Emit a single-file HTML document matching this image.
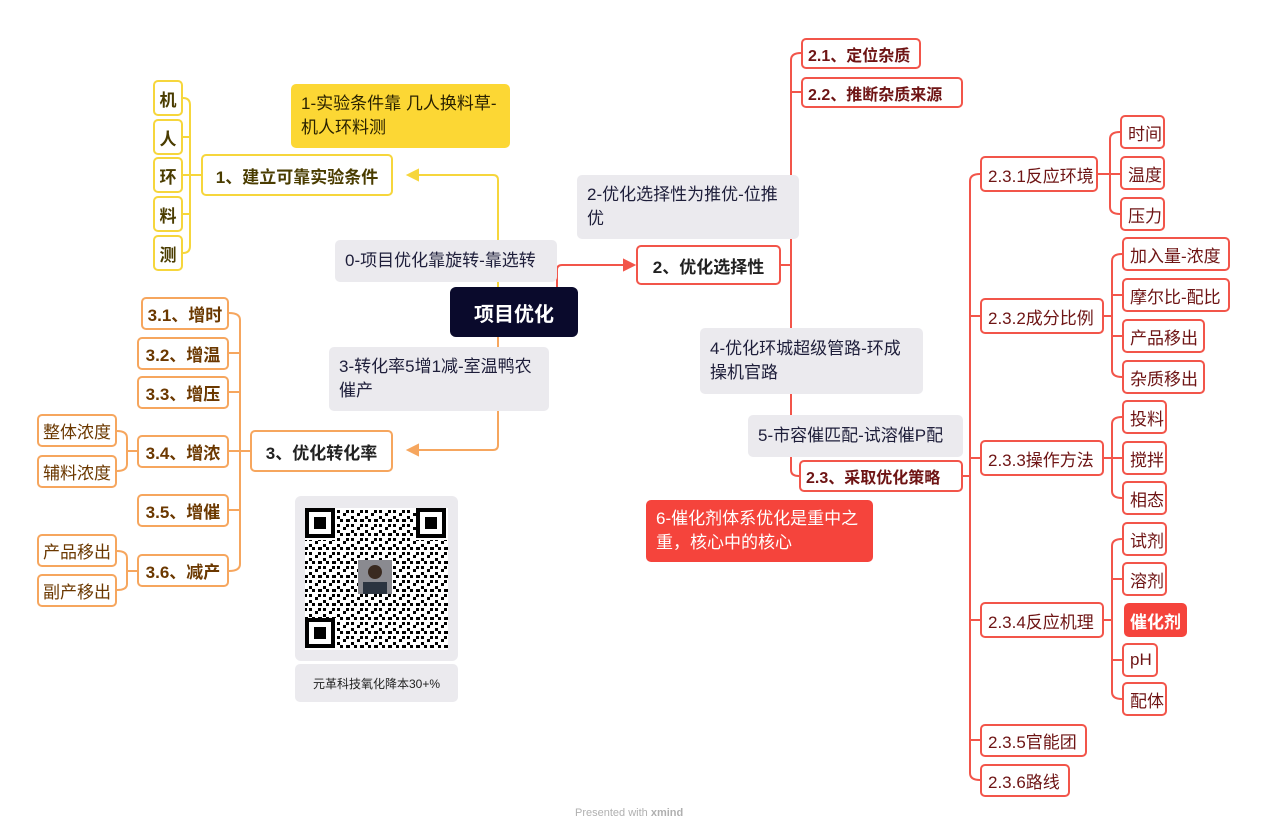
<!DOCTYPE html>
<html><head><meta charset="utf-8"><style>
body{margin:0;width:1268px;height:834px;background:#fff;position:relative;overflow:hidden;font-family:"Liberation Sans","Noto Sans CJK SC",sans-serif}
.n{position:absolute;box-sizing:border-box;display:flex;align-items:center;border-radius:5px;font-size:17px;white-space:nowrap}
.y{border:2px solid #f6d63c;color:#4a3c00;background:#fff}
.o{border:2px solid #f6a65e;color:#6b3800;background:#fff;font-weight:bold;justify-content:center}
.o2{border:2px solid #f6a65e;color:#6b3800;background:#fff;justify-content:center}
.r{border:2px solid #f2554a;color:#6e1414;background:#fff;padding-left:6px}
.rb{border:2px solid #f2554a;color:#6e1414;background:#fff;font-weight:bold;padding-left:5px;font-size:16px}
.g{background:#ebeaee;color:#1e1e3a;padding:0 10px;white-space:normal;line-height:24px;font-size:17px;border-radius:5px}
.b{font-weight:bold}
.c{justify-content:center}
</style></head><body>
<svg width="1268" height="834" style="position:absolute;left:0;top:0" fill="none" stroke-width="2">
<g stroke="#f6d63c">
<path d="M498 287 V180 Q498 175 493 175 H410"/><path d="M408 175 l10 -5 v10z" fill="#f6d63c"/>
<path d="M201 175 H190 M183 98 Q190 98 190 105 V246 Q190 253 183 253 M183 137 H190 M183 175 H190 M183 214 H190"/>
</g>
<g stroke="#f6a65e">
<path d="M498 337 V445 Q498 450 493 450 H410"/><path d="M408 450 l10 -5 v10z" fill="#f6a65e"/>
<path d="M250 451 H240 M229 313 Q240 313 240 320 V564 Q240 571 229 571 M229 353 H240 M229 392 H240 M229 451 H240 M229 510 H240"/>
<path d="M137 451 H127 M117 431 Q127 431 127 438 V464 Q127 471 117 471 M137 571 H127 M117 551 Q127 551 127 558 V584 Q127 590 117 590"/>
</g>
<g stroke="#f2554a">
<path d="M557 290 V270 Q557 265 562 265 H625"/><path d="M634 265 l-10 -5 v10z" fill="#f2554a"/>
<path d="M781 265 H791 M801 53 Q791 53 791 60 V470 Q791 476 799 476 M801 92 H791"/>
<path d="M963 476 H970 M980 174 Q970 174 970 181 V773 Q970 780 980 780 M980 316 H970 M980 458 H970 M980 620 H970 M980 740 H970"/>
<path d="M1098 174 H1110 M1120 132 Q1110 132 1110 139 V207 Q1110 214 1120 214 M1120 174 H1110"/>
<path d="M1104 316 H1112 M1122 254 Q1112 254 1112 261 V370 Q1112 377 1122 377 M1122 295 H1112 M1122 336 H1112"/>
<path d="M1104 458 H1112 M1122 417 Q1112 417 1112 424 V491 Q1112 498 1122 498 M1122 458 H1112"/>
<path d="M1104 620 H1112 M1122 539 Q1112 539 1112 546 V692 Q1112 699 1122 699 M1122 579 H1112 M1122 660 H1112"/>
</g>
</svg>

<div class="n c b" style="left:450px;top:287px;width:128px;height:50px;background:#0a0a2c;color:#fff;font-size:20px;border-radius:6px">项目优化</div>
<div class="n g" style="left:335px;top:240px;width:222px;height:42px">0-项目优化靠旋转-靠选转</div>
<div class="n g" style="left:329px;top:347px;width:220px;height:64px">3-转化率5增1减-室温鸭农催产</div>
<div class="n g" style="left:291px;top:84px;width:219px;height:64px;background:#fcd734;color:#2a2200">1-实验条件靠 几人换料草-机人环料测</div>
<div class="n y b c" style="left:201px;top:154px;width:192px;height:42px">1、建立可靠实验条件</div>
<div class="n y b c" style="left:153px;top:80px;width:30px;height:36px">机</div>
<div class="n y b c" style="left:153px;top:119px;width:30px;height:36px">人</div>
<div class="n y b c" style="left:153px;top:157px;width:30px;height:36px">环</div>
<div class="n y b c" style="left:153px;top:196px;width:30px;height:36px">料</div>
<div class="n y b c" style="left:153px;top:235px;width:30px;height:36px">测</div>

<div class="n o" style="left:250px;top:430px;width:143px;height:42px;color:#222">3、优化转化率</div>
<div class="n o" style="left:141px;top:297px;width:88px;height:33px">3.1、增时</div>
<div class="n o" style="left:137px;top:337px;width:92px;height:33px">3.2、增温</div>
<div class="n o" style="left:137px;top:376px;width:92px;height:33px">3.3、增压</div>
<div class="n o" style="left:137px;top:435px;width:92px;height:33px">3.4、增浓</div>
<div class="n o" style="left:137px;top:494px;width:92px;height:33px">3.5、增催</div>
<div class="n o" style="left:137px;top:554px;width:92px;height:33px">3.6、减产</div>
<div class="n o2" style="left:37px;top:414px;width:80px;height:33px">整体浓度</div>
<div class="n o2" style="left:37px;top:455px;width:80px;height:33px">辅料浓度</div>
<div class="n o2" style="left:37px;top:534px;width:80px;height:33px">产品移出</div>
<div class="n o2" style="left:37px;top:574px;width:80px;height:33px">副产移出</div>

<div style="position:absolute;left:295px;top:496px;width:163px;height:165px;background:#ebeaee;border-radius:6px">
<svg width="163" height="165"><defs><pattern id="q" width="14" height="14" patternUnits="userSpaceOnUse"><rect x="0" y="0" width="3" height="3" fill="#000"/><rect x="6" y="3" width="3" height="3" fill="#000"/><rect x="9" y="0" width="3" height="3" fill="#000"/><rect x="3" y="9" width="3" height="3" fill="#000"/><rect x="9" y="9" width="4" height="3" fill="#000"/><rect x="0" y="6" width="3" height="3" fill="#000"/></pattern></defs>
<rect x="10" y="12" width="143" height="142" fill="#fff"/><rect x="10" y="12" width="143" height="142" fill="url(#q)"/>
<g fill="#fff"><rect x="10" y="12" width="32" height="32"/><rect x="121" y="12" width="32" height="32"/><rect x="10" y="122" width="32" height="32"/></g>
<g stroke="#000" stroke-width="4" fill="none"><rect x="12" y="14" width="26" height="26"/><rect x="123" y="14" width="26" height="26"/><rect x="12" y="124" width="26" height="26"/></g>
<g fill="#000"><rect x="19" y="21" width="12" height="12"/><rect x="130" y="21" width="12" height="12"/><rect x="19" y="131" width="12" height="12"/></g>
<rect x="63" y="64" width="34" height="34" fill="#8a8a90"/><circle cx="80" cy="76" r="7" fill="#3a2a20"/><rect x="68" y="86" width="24" height="12" fill="#2b3440"/></svg></div>
<div class="n c" style="left:295px;top:664px;width:163px;height:38px;background:#ebeaee;font-size:12px;color:#222">元革科技氧化降本30+%</div>

<div class="n g" style="left:577px;top:175px;width:222px;height:64px">2-优化选择性为推优-位推优</div>
<div class="n rb c" style="left:636px;top:245px;width:145px;height:40px;color:#222;padding:0;font-size:17px">2、优化选择性</div>
<div class="n rb" style="left:801px;top:38px;width:120px;height:31px">2.1、定位杂质</div>
<div class="n rb" style="left:801px;top:77px;width:162px;height:31px">2.2、推断杂质来源</div>
<div class="n g" style="left:700px;top:328px;width:223px;height:66px">4-优化环城超级管路-环成操机官路</div>
<div class="n g" style="left:748px;top:415px;width:215px;height:42px">5-市容催匹配-试溶催P配</div>
<div class="n rb" style="left:799px;top:460px;width:164px;height:32px">2.3、采取优化策略</div>
<div class="n g" style="left:646px;top:500px;width:227px;height:62px;background:#f5443c;color:#fff">6-催化剂体系优化是重中之重，核心中的核心</div>

<div class="n r" style="left:980px;top:156px;width:118px;height:36px">2.3.1反应环境</div>
<div class="n r" style="left:980px;top:298px;width:124px;height:36px">2.3.2成分比例</div>
<div class="n r" style="left:980px;top:440px;width:124px;height:36px">2.3.3操作方法</div>
<div class="n r" style="left:980px;top:602px;width:124px;height:36px">2.3.4反应机理</div>
<div class="n r" style="left:980px;top:724px;width:107px;height:33px">2.3.5官能团</div>
<div class="n r" style="left:980px;top:764px;width:90px;height:33px">2.3.6路线</div>
<div class="n r" style="left:1120px;top:115px;width:45px;height:34px">时间</div>
<div class="n r" style="left:1120px;top:156px;width:45px;height:34px">温度</div>
<div class="n r" style="left:1120px;top:197px;width:45px;height:34px">压力</div>
<div class="n r" style="left:1122px;top:237px;width:108px;height:34px">加入量-浓度</div>
<div class="n r" style="left:1122px;top:278px;width:108px;height:34px">摩尔比-配比</div>
<div class="n r" style="left:1122px;top:319px;width:83px;height:34px">产品移出</div>
<div class="n r" style="left:1122px;top:360px;width:83px;height:34px">杂质移出</div>
<div class="n r" style="left:1122px;top:400px;width:45px;height:34px">投料</div>
<div class="n r" style="left:1122px;top:441px;width:45px;height:34px">搅拌</div>
<div class="n r" style="left:1122px;top:481px;width:45px;height:34px">相态</div>
<div class="n r" style="left:1122px;top:522px;width:45px;height:34px">试剂</div>
<div class="n r" style="left:1122px;top:562px;width:45px;height:34px">溶剂</div>
<div class="n b" style="left:1124px;top:603px;width:63px;height:34px;background:#f5443c;color:#fff;padding-left:6px">催化剂</div>
<div class="n r" style="left:1122px;top:643px;width:36px;height:34px">pH</div>
<div class="n r" style="left:1122px;top:682px;width:45px;height:34px">配体</div>

<div style="position:absolute;left:575px;top:807px;font-size:11px;color:#b0b0b0">Presented with <b>xmind</b></div>
</body></html>
